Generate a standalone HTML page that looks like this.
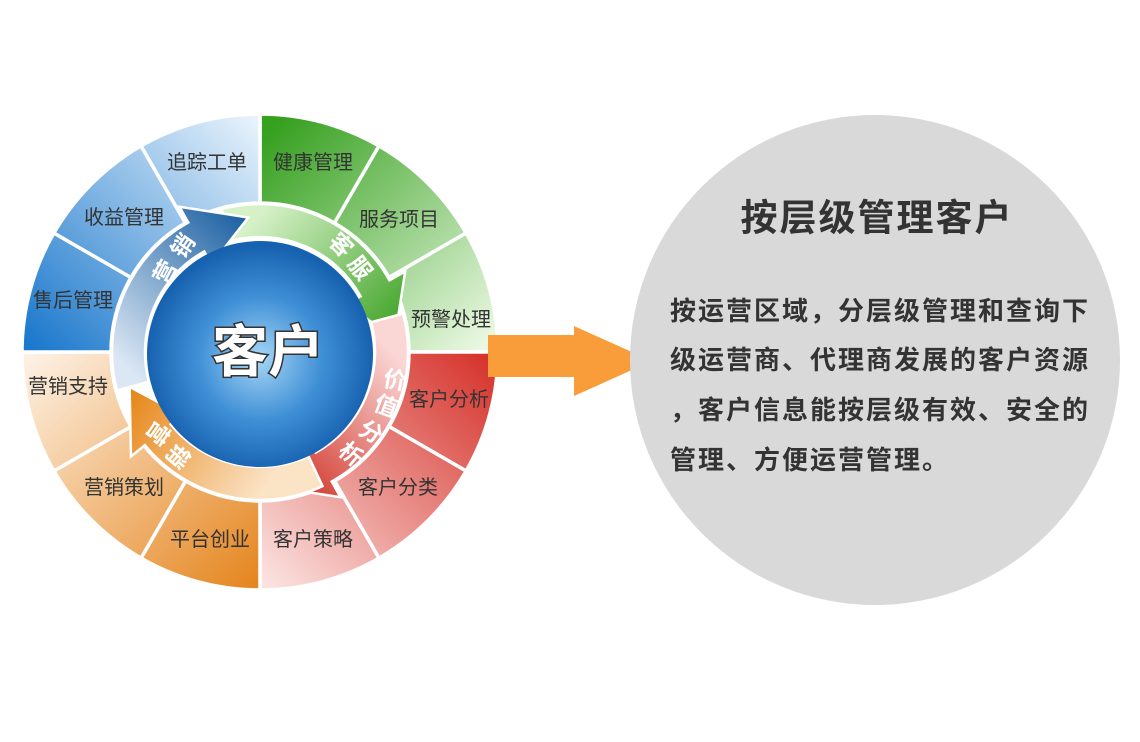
<!DOCTYPE html>
<html><head><meta charset="utf-8"><style>
html,body{margin:0;padding:0;background:#fff;width:1140px;height:742px;overflow:hidden}
svg{display:block}
.seg{font-family:"Liberation Sans","Noto Sans CJK SC",sans-serif;font-size:20px;fill:#333;text-anchor:middle;dominant-baseline:central}
.aw{font-family:"Liberation Sans","Noto Sans CJK SC",sans-serif;font-size:23px;font-weight:bold;fill:#fff;text-anchor:middle;dominant-baseline:central}
.rt{font-family:"Liberation Sans","Noto Sans CJK SC",sans-serif;font-weight:bold;fill:#333}
</style></head><body>
<svg id="s" width="1140" height="742" viewBox="0 0 1140 742" xmlns="http://www.w3.org/2000/svg">
<defs>
<linearGradient id="gG" gradientUnits="userSpaceOnUse" x1="280" y1="120" x2="490" y2="340"><stop offset="0" stop-color="#36a01f"/><stop offset="1" stop-color="#eaf8e2"/></linearGradient>
<linearGradient id="gR" gradientUnits="userSpaceOnUse" x1="495" y1="360" x2="270" y2="590"><stop offset="0" stop-color="#d5322a"/><stop offset="1" stop-color="#fbe3e1"/></linearGradient>
<linearGradient id="gO" gradientUnits="userSpaceOnUse" x1="30" y1="355" x2="250" y2="590"><stop offset="0" stop-color="#fdf1e4"/><stop offset="1" stop-color="#e5861f"/></linearGradient>
<linearGradient id="gB" gradientUnits="userSpaceOnUse" x1="255" y1="118" x2="28" y2="345"><stop offset="0" stop-color="#e8f3fc"/><stop offset="1" stop-color="#1b78cc"/></linearGradient>
<radialGradient id="gC" cx="0.5" cy="0.52" r="0.5"><stop offset="0" stop-color="#a6d6f5"/><stop offset="0.55" stop-color="#3f8fd6"/><stop offset="1" stop-color="#1762b0"/></radialGradient>
<linearGradient id="aG" gradientUnits="userSpaceOnUse" x1="262" y1="212" x2="400" y2="340"><stop offset="0" stop-color="#d6f1c8"/><stop offset="1" stop-color="#3aa020"/></linearGradient>
<linearGradient id="aR" gradientUnits="userSpaceOnUse" x1="400" y1="360" x2="265" y2="490"><stop offset="0" stop-color="#fad7d5"/><stop offset="1" stop-color="#cc2418"/></linearGradient>
<linearGradient id="aO" gradientUnits="userSpaceOnUse" x1="260" y1="495" x2="115" y2="400"><stop offset="0" stop-color="#fbe3c6"/><stop offset="1" stop-color="#e5820f"/></linearGradient>
<linearGradient id="aB" gradientUnits="userSpaceOnUse" x1="118" y1="360" x2="255" y2="215"><stop offset="0" stop-color="#dbe7f4"/><stop offset="1" stop-color="#135a9e"/></linearGradient>
</defs>
<g id="segs"></g>
<circle cx="260" cy="352" r="150" fill="#fff"/>
<g id="arrows"></g>
<circle cx="260" cy="354" r="113" fill="url(#gC)"/>
<text x="268" y="352" font-family="Liberation Sans,Noto Sans CJK SC,sans-serif" font-size="56" font-weight="bold" fill="#fff" stroke="#333" stroke-width="3" paint-order="stroke" text-anchor="middle" dominant-baseline="central">客户</text>

<text class="seg" x="207" y="163">追踪工单</text>
<text class="seg" x="313" y="163">健康管理</text>
<text class="seg" x="399" y="220">服务项目</text>
<text class="seg" x="451" y="320">预警处理</text>
<text class="seg" x="449" y="400">客户分析</text>
<text class="seg" x="398" y="488">客户分类</text>
<text class="seg" x="313" y="540">客户策略</text>
<text class="seg" x="210" y="540">平台创业</text>
<text class="seg" x="124" y="488">营销策划</text>
<text class="seg" x="68" y="387">营销支持</text>
<text class="seg" x="73" y="301">售后管理</text>
<text class="seg" x="124" y="218">收益管理</text>

<text class="aw" transform="translate(341,245) rotate(45)">客</text>
<text class="aw" transform="translate(360,268) rotate(52)">服</text>
<text class="aw" transform="translate(183,246) rotate(-55)">销</text>
<text class="aw" transform="translate(165,272) rotate(-62)">营</text>
<text class="aw" transform="translate(395,380) rotate(10)">价</text>
<text class="aw" transform="translate(386,406) rotate(20)">值</text>
<text class="aw" transform="translate(371,432) rotate(30)">分</text>
<text class="aw" transform="translate(351,454) rotate(40)">析</text>
<text class="aw" transform="translate(158,433) rotate(125)">营</text>
<text class="aw" transform="translate(178,456) rotate(130)">销</text>

<polygon points="488,335 574,335 574,326 652,361 574,396 574,377 488,377" fill="#f89d3a"/>
<circle cx="875" cy="360" r="245" fill="#d9d9d9"/>
<text class="rt" x="877" y="218" font-size="37" letter-spacing="2" text-anchor="middle" dominant-baseline="central">按层级管理客户</text>
<text class="rt" x="670" y="311" font-size="26" letter-spacing="2" dominant-baseline="central">按运营区域，分层级管理和查询下</text>
<text class="rt" x="670" y="360" font-size="26" letter-spacing="2" dominant-baseline="central">级运营商、代理商发展的客户资源</text>
<text class="rt" x="670" y="410" font-size="26" letter-spacing="2" dominant-baseline="central">，客户信息能按层级有效、安全的</text>
<text class="rt" x="670" y="460" font-size="26" letter-spacing="2" dominant-baseline="central">管理、方便运营管理。</text>
</svg>
<script>
var cx=260,cy=352,NS="http://www.w3.org/2000/svg";
function P(r,a){a=a*Math.PI/180;return (cx+r*Math.sin(a)).toFixed(2)+","+(cy-r*Math.cos(a)).toFixed(2);}
var segs=document.getElementById("segs"),cols=["url(#gG)","url(#gR)","url(#gO)","url(#gB)"];
for(var i=0;i<12;i++){var a0=i*30,a1=a0+30,R=238,r=149;
var d="M"+P(r,a0)+" L"+P(R,a0)+" A"+R+","+R+" 0 0 1 "+P(R,a1)+" L"+P(r,a1)+" A"+r+","+r+" 0 0 0 "+P(r,a0)+" Z";
var p=document.createElementNS(NS,"path");p.setAttribute("d",d);p.setAttribute("fill",cols[Math.floor(i/3)]);p.setAttribute("stroke","#fff");p.setAttribute("stroke-width","3.5");segs.appendChild(p);}
var ar=document.getElementById("arrows"),ac=["url(#aG)","url(#aR)","url(#aO)","url(#aB)"];
var tips=[85,175,255,355];
for(var k=0;k<4;k++){var t=tips[k],s=t-100,e=t-24,ro=148,ri=115,ho=166,hi=100;
var d="M"+P(ri,s)+" L"+P(ro,s)+" A"+ro+","+ro+" 0 0 1 "+P(ro,e)+" L"+P(ho,e)+" L"+P(135,t)+" L"+P(hi,e)+" L"+P(ri,e)+" A"+ri+","+ri+" 0 0 0 "+P(ri,s)+" Z";
var p=document.createElementNS(NS,"path");p.setAttribute("d",d);p.setAttribute("fill",ac[k]);p.setAttribute("stroke","#fff");p.setAttribute("stroke-width","2.5");ar.appendChild(p);}
</script>
</body></html>
